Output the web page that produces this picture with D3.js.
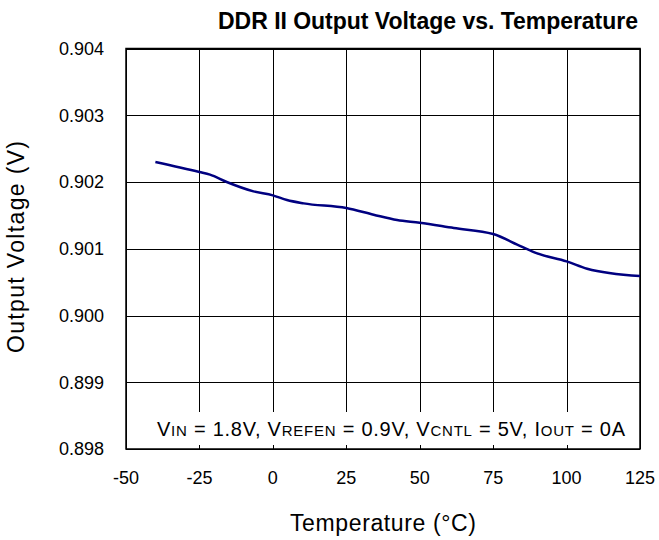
<!DOCTYPE html>
<html><head><meta charset="utf-8">
<script src="https://cdn.jsdelivr.net/npm/d3@7"></script>
<style>body{margin:0;background:#fff;} svg{display:block;font-family:Arial,"Liberation Sans",sans-serif;}</style>
</head><body>
<svg id="c" width="659" height="540"></svg>
<script>
const title = "DDR II Output Voltage vs. Temperature";
const xLabel = "Temperature (°C)";
const yLabel = "Output Voltage (V)";
const xTicks = [-50, -25, 0, 25, 50, 75, 100, 125];
const yTicks = [0.898, 0.899, 0.900, 0.901, 0.902, 0.903, 0.904];
const temps = [-40, -25, -21.4, -15.7, -6.6, 0, 4.8, 10.5, 25, 34.3, 42.3, 50, 61.6, 75, 84.3, 90, 100, 107, 125];
const volts = [0.90230, 0.90215, 0.90211, 0.90200, 0.90186, 0.90180, 0.90173, 0.90168, 0.90161, 0.90151, 0.90143, 0.90139, 0.90131, 0.90122, 0.90104, 0.90093, 0.90081, 0.90070, 0.90059];
const note = [["V",0],["IN",1],[" = 1.8V, V",0],["REFEN",1],[" = 0.9V, V",0],["CNTL",1],[" = 5V, I",0],["OUT",1],[" = 0A",0]];

const svg = d3.select("#c");
const L = 126, R = 640, T = 48.5, B = 449;
const x = d3.scaleLinear().domain([-50, 125]).range([L, R]);
const y = d3.scaleLinear().domain([0.898, 0.904]).range([B, T]);

const g = svg.append("g");
// grid
g.selectAll(".vg").data(xTicks).enter().append("line")
  .attr("x1", d => Math.round(x(d)) + 0.5).attr("x2", d => Math.round(x(d)) + 0.5)
  .attr("y1", T).attr("y2", B).attr("stroke", "#000").attr("stroke-width", 1);
g.selectAll(".hg").data(yTicks).enter().append("line")
  .attr("y1", d => Math.round(y(d)) + 0.5).attr("y2", d => Math.round(y(d)) + 0.5)
  .attr("x1", L).attr("x2", R).attr("stroke", "#000").attr("stroke-width", 1);

// white box for annotation
g.append("rect").attr("x", L + 2).attr("y", 412).attr("width", R - L - 4).attr("height", 33).attr("fill", "#fff");
// inward bottom ticks
g.selectAll(".bt").data(xTicks).enter().append("line")
  .attr("x1", d => Math.round(x(d)) + 0.5).attr("x2", d => Math.round(x(d)) + 0.5)
  .attr("y1", B - 4).attr("y2", B).attr("stroke", "#000").attr("stroke-width", 1);

// frame
g.append("rect").attr("x", L).attr("y", T).attr("width", R - L).attr("height", B - T)
  .attr("fill", "none").attr("stroke", "#000").attr("stroke-width", 1.5);

// curve
const data = temps.map((t, i) => [t, volts[i]]);
g.append("path").datum(data)
  .attr("d", d3.line().x(d => x(d[0])).y(d => y(d[1])).curve(d3.curveMonotoneX))
  .attr("fill", "none").attr("stroke", "#000080").attr("stroke-width", 2.5);

// tick labels
svg.selectAll(".yl").data(yTicks).enter().append("text")
  .attr("x", 104).attr("y", d => y(d)).attr("dy", "0.35em")
  .attr("text-anchor", "end").attr("font-size", 18).text(d => d3.format(".3f")(d));
svg.selectAll(".xl").data(xTicks).enter().append("text")
  .attr("x", d => x(d)).attr("y", 484)
  .attr("text-anchor", "middle").attr("font-size", 18).text(d => d);

// axis labels
svg.append("text").attr("x", 290).attr("y", 531)
  .attr("font-size", 23).attr("textLength", 186).attr("lengthAdjust", "spacing").text(xLabel);
svg.append("text").attr("transform", "translate(24,353) rotate(-90)")
  .attr("font-size", 23).attr("textLength", 212).attr("lengthAdjust", "spacing").text(yLabel);

// title
svg.append("text").attr("x", 218).attr("y", 29)
  .attr("font-size", 23).attr("font-weight", "bold")
  .attr("textLength", 420).attr("lengthAdjust", "spacing").text(title);

// annotation
const nt = svg.append("text").attr("x", 157).attr("y", 436).attr("font-size", 20)
  .attr("textLength", 468).attr("lengthAdjust", "spacing");
nt.selectAll("tspan").data(note).enter().append("tspan")
  .attr("font-size", d => d[1] ? 15 : 20).text(d => d[0]);
</script>
</body></html>
